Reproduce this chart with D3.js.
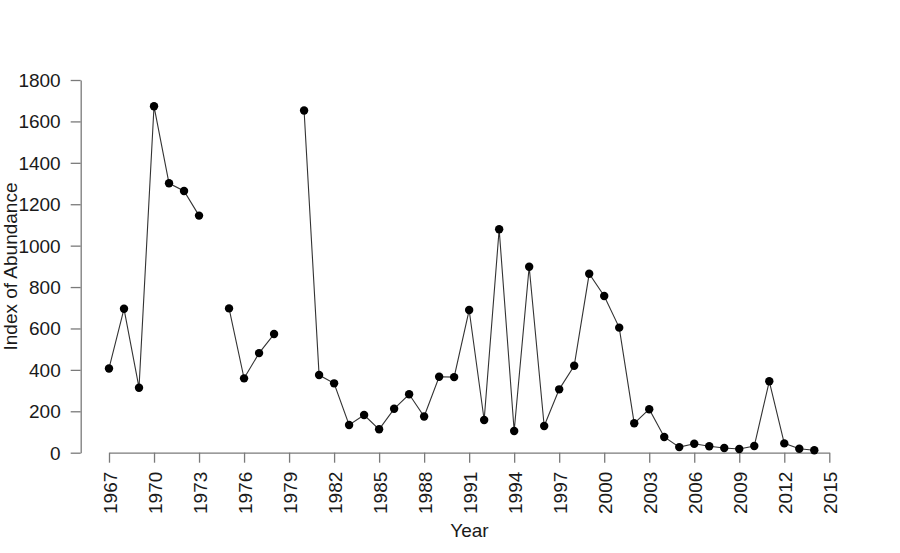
<!DOCTYPE html>
<html>
<head>
    <meta charset="utf-8">
    <title>Index of Abundance by Year</title>
    <script src="https://d3js.org/d3.v7.min.js"></script>
    <style>
        body {
            margin: 0;
            background: #fff;
            font-family: "Liberation Sans", Arial, sans-serif;
        }
        .axis path,
        .axis line {
            fill: none;
            stroke: #7a7a7a;
            stroke-width: 1.3px;
        }
        .axis text {
            font-family: "Liberation Sans", Arial, sans-serif;
            font-size: 19px;
            fill: #1a1a1a;
        }
        .axis-label {
            font-size: 19px;
            fill: #1a1a1a;
        }
        .series {
            fill: none;
            stroke: #333;
            stroke-width: 1.1px;
        }
        .dot {
            fill: #000;
        }
    </style>
</head>
<body>
    <svg id="chart" width="900" height="553"></svg>

    <script>
        // values (null = no survey that year)
        const years = d3.range(1967, 2015);
        const abundance = [
            407, 695, 314, 1673, 1301, 1264, 1145, null, 697, 359,
            481, 573, null, 1653, 375, 335, 134, 182, 113, 212,
            282, 175, 367, 365, 689, 158, 1079, 105, 898, 129,
            306, 420, 864, 757, 604, 142, 210, 76, 27, 43,
            31, 23, 18, 32, 345, 45, 19, 12
        ];
        const xTicks = d3.range(1967, 2016, 3);
        const yTicks = d3.range(0, 1801, 200);

        const data = years.map((yr, i) => ({year: yr, value: abundance[i]}));

        const svg = d3.select('#chart');

        const x = d3.scaleLinear()
            .domain([1967, 2015])
            .range([109, 829.3]);
        const y = d3.scaleLinear()
            .domain([0, 1800])
            .range([452.7, 80]);

        // y axis sits a little left of the first year, like base R
        svg.append('g')
            .attr('class', 'axis')
            .attr('transform', 'translate(80.7,0)')
            .call(d3.axisLeft(y).tickValues(yTicks).tickFormat(d3.format('d'))
                .tickSize(10).tickSizeOuter(0).tickPadding(10))
            .selectAll('text')
            .attr('dy', '0.34em');

        const xAxis = svg.append('g')
            .attr('class', 'axis')
            .attr('transform', 'translate(0,452.7)')
            .call(d3.axisBottom(x).tickValues(xTicks).tickFormat(d3.format('d'))
                .tickSize(10).tickSizeOuter(0));
        xAxis.selectAll('text')
            .attr('transform', 'rotate(-90)')
            .attr('x', -19)
            .attr('y', 0)
            .attr('dy', '0.4em')
            .style('text-anchor', 'end');

        svg.append('text')
            .attr('class', 'axis-label')
            .attr('x', 469.5)
            .attr('y', 536.7)
            .style('text-anchor', 'middle')
            .text('Year');

        svg.append('text')
            .attr('class', 'axis-label')
            .attr('transform', 'rotate(-90)')
            .attr('x', -266.5)
            .attr('y', 16.5)
            .style('text-anchor', 'middle')
            .text('Index of Abundance');

        const line = d3.line()
            .defined(d => d.value !== null)
            .x(d => x(d.year))
            .y(d => y(d.value));

        svg.append('path')
            .datum(data)
            .attr('class', 'series')
            .attr('d', line);

        svg.selectAll('.dot')
            .data(data.filter(d => d.value !== null))
            .enter().append('circle')
            .attr('class', 'dot')
            .attr('cx', d => x(d.year))
            .attr('cy', d => y(d.value))
            .attr('r', 4.2);
    </script>
</body>
</html>
